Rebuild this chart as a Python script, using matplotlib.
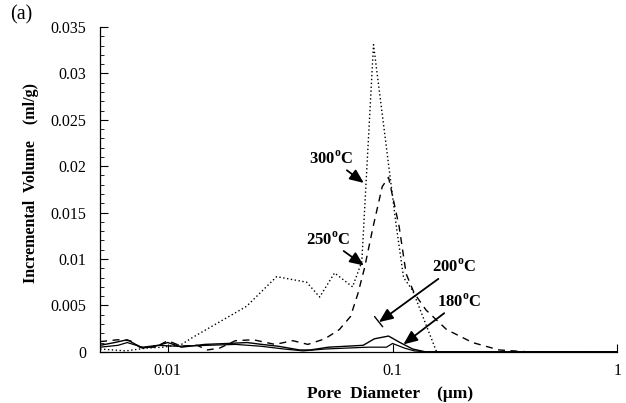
import numpy as np
import matplotlib.pyplot as plt
from matplotlib.ticker import FixedLocator, MultipleLocator, NullLocator

plt.rcParams['font.family'] = ['Liberation Serif', 'DejaVu Serif']
plt.rcParams['mathtext.fontset'] = 'custom'
plt.rcParams['mathtext.rm'] = 'Liberation Serif'
plt.rcParams['mathtext.bf'] = 'Liberation Serif:bold'

# ---------------- DATA (pore diameter in um, incremental volume in ml/g) ----------------
d_300 = [0.0050, 0.0065, 0.0080, 0.0095, 0.0115, 0.0130, 0.0224, 0.0305, 0.0415, 0.0474,
         0.0552, 0.0664, 0.0730, 0.0823, 0.1040, 0.1120, 0.1230, 0.1570, 0.3000, 1.0]
v_300 = [0.0003, 0.0001, 0.0004, 0.0005, 0.0008, 0.0016, 0.0049, 0.0081, 0.0075, 0.0059,
         0.0085, 0.0070, 0.0097, 0.0331, 0.0135, 0.0080, 0.0066, 0.0000, 0.0000, 0.0]

d_250 = [0.0050, 0.0060, 0.0068, 0.0075, 0.0088, 0.0100, 0.0115, 0.0135, 0.0150, 0.0170,
         0.0200, 0.0240, 0.0300, 0.0360, 0.0420, 0.0500, 0.0580, 0.0650, 0.0700, 0.0750,
         0.0820, 0.0900, 0.0960, 0.1070, 0.1150, 0.1250, 0.1410, 0.1740, 0.2270, 0.2980,
         0.4000, 1.0]
v_250 = [0.0011, 0.0013, 0.0012, 0.0005, 0.0005, 0.0012, 0.0006, 0.0007, 0.0002, 0.0004,
         0.0012, 0.0013, 0.0008, 0.0012, 0.0008, 0.0014, 0.0024, 0.0038, 0.0062, 0.0090,
         0.0135, 0.0178, 0.0188, 0.0135, 0.0084, 0.0063, 0.0045, 0.0024, 0.0010, 0.0002,
         0.0000, 0.0]

d_200 = [0.0050, 0.0058, 0.0066, 0.0077, 0.0088, 0.0100, 0.0115, 0.0146, 0.0185, 0.0225,
         0.0262, 0.0310, 0.0386, 0.0430, 0.0520, 0.0620, 0.0740, 0.0830, 0.0960, 0.1080,
         0.1230, 0.1400, 1.0]
v_200 = [0.0007, 0.0010, 0.0013, 0.0004, 0.0006, 0.0010, 0.0005, 0.0008, 0.0009, 0.0010,
         0.0008, 0.0006, 0.0002, 0.0002, 0.0005, 0.0006, 0.0007, 0.0014, 0.0017, 0.0010,
         0.0003, 0.0000, 0.0]

d_180 = [0.0050, 0.0060, 0.0066, 0.0077, 0.0090, 0.0110, 0.0150, 0.0200, 0.0260, 0.0330,
         0.0400, 0.0500, 0.0620, 0.0780, 0.0940, 0.1000, 0.1130, 0.1250, 0.1400, 1.0]
v_180 = [0.0005, 0.0007, 0.0010, 0.0005, 0.0007, 0.0006, 0.0007, 0.0008, 0.0006, 0.0003,
         0.0001, 0.0003, 0.0004, 0.0005, 0.0005, 0.0009, 0.0004, 0.0001, 0.0000, 0.0]

x_ticks = [0.01, 0.1, 1]
x_ticklabels = ['0.01', '0.1', '1']
y_ticks = [0, 0.005, 0.01, 0.015, 0.02, 0.025, 0.03, 0.035]
y_ticklabels = ['0', '0.005', '0.01', '0.015', '0.02', '0.025', '0.03', '0.035']

# ---------------- PLOT ----------------
fig = plt.figure(figsize=(6.26, 4.03), dpi=100)
ax = fig.add_axes([0.160, 0.127, 0.826, 0.806])

ax.plot(d_300, v_300, color='black', lw=1.0, linestyle=(0, (1, 1.8)))
ax.plot(d_250, v_250, color='black', lw=1.0, linestyle=(0, (5, 4)))
ax.plot(d_200, v_200, color='black', lw=1.0)
ax.plot(d_180, v_180, color='black', lw=0.9)

ax.set_xscale('log')
ax.set_xlim(0.005, 1.0)
ax.set_ylim(0, 0.035)

ax.xaxis.set_major_locator(FixedLocator(x_ticks))
ax.xaxis.set_minor_locator(NullLocator())
ax.set_xticklabels(x_ticklabels)
ax.yaxis.set_major_locator(FixedLocator(y_ticks))
ax.yaxis.set_minor_locator(MultipleLocator(0.001))
ax.set_yticklabels(y_ticklabels)

ax.tick_params(axis='both', which='major', direction='in', length=6, width=0.8,
               labelsize=11.5)
ax.tick_params(axis='y', which='minor', direction='in', length=3, width=0.6)
ax.tick_params(axis='y', which='major', pad=10)
ax.tick_params(axis='x', which='major', pad=8)

for s in ['top', 'right']:
    ax.spines[s].set_visible(False)
for s in ['left', 'bottom']:
    ax.spines[s].set_linewidth(0.9)

ax.set_xlabel('Pore  Diameter    (μm)', fontsize=12.5, fontweight='bold')
ax.xaxis.set_label_coords(0.56, -0.105)
ax.set_ylabel('Incremental  Volume    (ml/g)', fontsize=11.5, fontweight='bold')
ax.yaxis.set_label_coords(-0.118, 0.52)

fig.text(0.016, 0.962, '(a)', fontsize=14.5, va='center', ha='left')

# ---------------- LABELS WITH ARROWS ----------------
arrow = dict(arrowstyle='-|>,head_length=0.7,head_width=0.3', color='black', lw=1.3,
             shrinkA=0, shrinkB=0)
lab = dict(fontsize=12, fontweight='bold', ha='center', va='center')

ax.annotate('300$^\\mathbf{o}$C', xy=(0.0745, 0.0182), xytext=(0.0535, 0.0208),
            arrowprops=arrow, **lab)
ax.annotate('250$^\\mathbf{o}$C', xy=(0.0745, 0.0093), xytext=(0.0515, 0.0121),
            arrowprops=arrow, **lab)
ax.annotate('200$^\\mathbf{o}$C', xy=(0.0870, 0.0032), xytext=(0.188, 0.0091),
            arrowprops=arrow, **lab)
ax.annotate('', xy=(0.0832, 0.0038), xytext=(0.0904, 0.0027),
            arrowprops=dict(arrowstyle='-', color='black', lw=1.0, shrinkA=0, shrinkB=0))
ax.annotate('180$^\\mathbf{o}$C', xy=(0.1118, 0.0008), xytext=(0.198, 0.0054),
            arrowprops=arrow, **lab)

fig.savefig('out.png', dpi=100)
